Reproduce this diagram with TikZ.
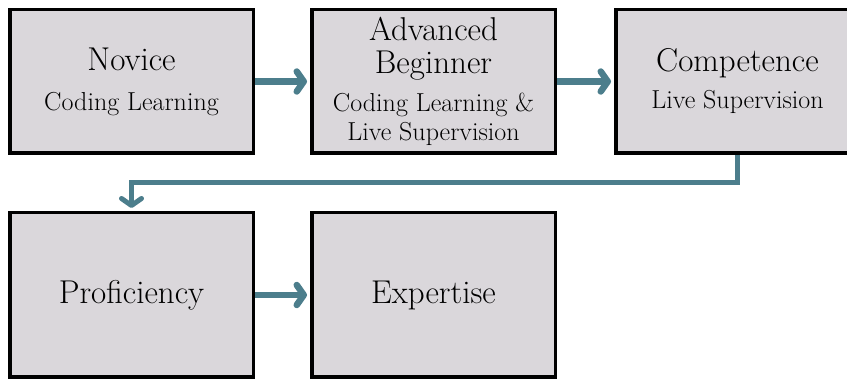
\documentclass[tikz,border=0pt]{standalone}
\usepackage{fontspec}
\usepackage{tikz}
\usetikzlibrary{positioning,arrows.meta}
\definecolor{boxgray}{RGB}{218,215,219}
\definecolor{arrteal}{RGB}{76,126,140}
\newcommand\stgname{\fontsize{33}{33}\selectfont}
\newcommand\stgnote{\fontsize{26}{29}\selectfont}
\tikzset{
  stagebox/.style={draw=black,fill=boxgray,line width=3.5pt,minimum width=243.5pt,
    minimum height=143.5pt,align=center,inner sep=0pt,font=\stgnote},
  tallbox/.style={stagebox,minimum height=164.5pt},
  flowarr/.style={-{Straight Barb[length=7pt,width=20pt,line cap=round,line join=round]},
    line width=6.5pt,arrteal,shorten >=3pt},
  turnarr/.style={flowarr,line width=5pt},
}
\begin{document}
\begin{tikzpicture}[x=1pt,y=-1pt]
  \useasboundingbox (0,0) rectangle (847,379);
  % top row
  \node[stagebox] (nov) at (131.5,81.5) {\stgname Novice\\[11pt]Coding Learning};
  \node[stagebox,right=55pt of nov] (adv) {\stgname Advanced\\[4pt]\stgname Beginner\\[9pt]%
    Coding Learning \&\\Live Supervision};
  \node[stagebox,right=57pt of adv] (comp) {\stgname Competence\\[8pt]Live Supervision};
  % bottom row
  \node[tallbox,below=56pt of nov] (prof) {\stgname Proficiency};
  \node[tallbox,right=55pt of prof] (expt) {\stgname Expertise};
  \draw[flowarr] (nov) -- (adv);
  \draw[flowarr] (adv) -- (comp);
  \draw[turnarr] (comp.south) -- ++(0,28) -| (prof.north);
  \draw[flowarr] (prof) -- (expt);
\end{tikzpicture}
\end{document}
